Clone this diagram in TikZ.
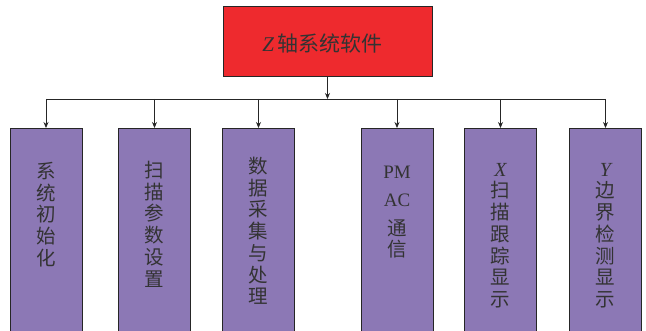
\documentclass[tikz,border=0pt]{standalone}
\usepackage{fontspec}
\setmainfont{Liberation Serif}
\newfontfamily\cjk{Noto Sans CJK SC}
\usetikzlibrary{arrows.meta}
\definecolor{topred}{HTML}{EE2A2E}
\definecolor{subpurple}{HTML}{8C78B5}
\definecolor{txtgray}{HTML}{333333}
\tikzset{
  topbox/.style={draw=black!85, line width=0.9pt, fill=topred, minimum width=209pt, minimum height=70pt, inner sep=0pt},
  subbox/.style={draw=black!85, line width=0.9pt, fill=subpurple, minimum width=72pt, minimum height=215pt, anchor=north, inner sep=0pt},
  vtext/.style={anchor=north, inner sep=0pt, align=center, text=txtgray, font=\cjk\fontsize{19.5}{21.7}\selectfont},
  conn/.style={line width=0.8pt, draw=black!85},
  arr/.style={conn, -{Stealth[length=6pt,width=5pt]}}
}
\begin{document}
\begin{tikzpicture}[x=1pt,y=-1pt]
\useasboundingbox (0,0) rectangle (646,331);
\clip (0,0) rectangle (646,331);
\node[topbox] (top) at (327.5,41) {};
\node[anchor=center, inner sep=0pt, text=txtgray, font=\fontsize{21}{23}\selectfont] (toptxt) at (322.5,43) {\textit{Z}\,{\cjk 轴系统软件}};

\node[subbox] (b1) at (46,128) {};
\node[subbox] (b2) at (154.5,128) {};
\node[subbox] (b3) at (258.5,128) {};
\node[subbox] (b4) at (397,128) {};
\node[subbox] (b5) at (500.5,128) {};
\node[subbox] (b6) at (605.5,128) {};

\node[vtext] (t1) at (46,162) {系\\统\\初\\始\\化};
\node[vtext] (t2) at (154.5,161) {扫\\描\\参\\数\\设\\置};
\node[vtext] (t3) at (258.5,157) {数\\据\\采\\集\\与\\处\\理};
\node[vtext] (t4) at (397,166) {{\fontspec{Liberation Serif}\fontsize{19}{20}\selectfont PM}\\[6pt]{\fontspec{Liberation Serif}\fontsize{19}{20}\selectfont AC}\\[7pt]通\\信};
\node[vtext] (t5) at (500.5,163) {{\fontspec{Liberation Serif}\fontsize{20}{20}\selectfont\itshape X}\\扫\\描\\跟\\踪\\显\\示};
\node[vtext] (t6) at (605.5,163) {{\fontspec{Liberation Serif}\fontsize{20}{20}\selectfont\itshape Y}\\边\\界\\检\\测\\显\\示};

\coordinate (bus) at (top.south |- 0,99);
\coordinate (busL) at (b1.north |- 0,99);
\coordinate (busR) at (b6.north |- 0,99);
\draw[arr] (top.south) -- (bus);
\draw[conn] (busL) -- (busR);
\foreach \b in {b1,b2,b3,b4,b5,b6}{
  \draw[arr] (\b.north |- 0,99) -- (\b.north);
}
\end{tikzpicture}
\end{document}
